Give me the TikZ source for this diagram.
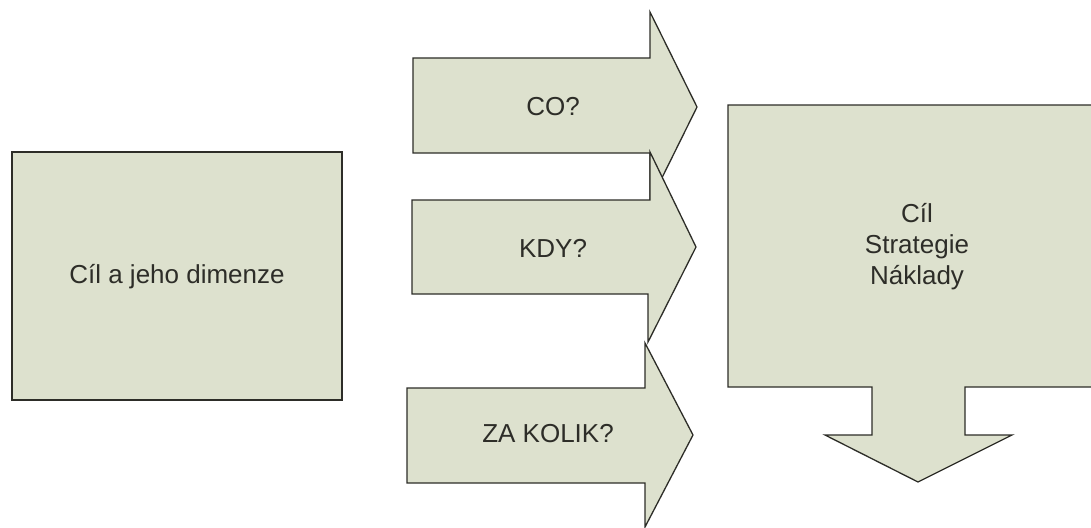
\documentclass[tikz,border=0pt]{standalone}
\usepackage{fontspec}
\setmainfont{Liberation Sans}
\definecolor{boxfill}{RGB}{221,225,206}
\definecolor{inkgray}{RGB}{45,45,40}

\begin{document}
\begin{tikzpicture}[x=1pt,y=-1pt,shape box/.style={draw=inkgray,fill=boxfill,line width=1.3pt,line join=miter},main text/.style={font=\fontsize{26}{31}\selectfont,text=inkgray,align=center}]

				\useasboundingbox (0,0) rectangle (1091,527);

				% left box
				\draw[shape box] (12,152) rectangle (342,400);
				\node[main text] (goal) at (177,277) {Cíl a jeho dimenze};

				% three arrows, the later one over the earlier
				\draw[shape box] (413,58) -- (650,58) -- (650,12) -- (697,107) -- (650,202) -- (650,153) -- (413,153) -- cycle;
				\node[main text] (what) at (553,107) {CO?};
				\draw[shape box] (412,200) -- (650,200) -- (650,152) -- (696,247) -- (648,342) -- (648,294) -- (412,294) -- cycle;
				\node[main text] (when) at (553,248) {KDY?};
				\draw[shape box] (407,388) -- (645,388) -- (645,343) -- (693,435) -- (645,527) -- (645,483) -- (407,483) -- cycle;
				\node[main text] (cost) at (548,434) {ZA KOLIK?};

				% right box with its down arrow
				\draw[shape box] (728,105) -- (1106,105) -- (1106,387) -- (965,387) -- (965,435) -- (1012,435) -- (918,482) -- (825,435) -- (872,435) -- (872,387) -- (728,387) -- cycle;
				\node[main text] (result) at (917,247) {Cíl\\Strategie\\Náklady};

\end{tikzpicture}
\end{document}
